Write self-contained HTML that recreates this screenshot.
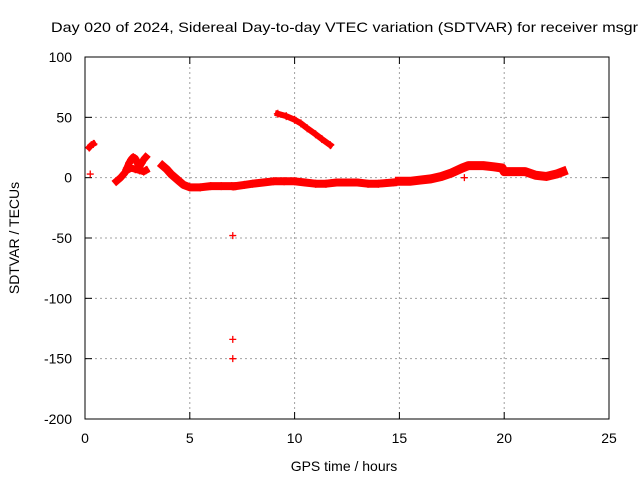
<!DOCTYPE html>
<html><head><meta charset="utf-8"><style>
body{margin:0;background:#fff}
svg text{font-family:"Liberation Sans",sans-serif;font-size:14px;fill:#000}
</style></head><body>
<svg id="chart" width="640" height="480" xmlns="http://www.w3.org/2000/svg">
<text x="51" y="32" textLength="587" lengthAdjust="spacingAndGlyphs">Day 020 of 2024, Sidereal Day-to-day VTEC variation (SDTVAR) for receiver msgr</text>
<g id="grid"></g>
<g id="axes"></g>
<g id="series"></g>
<rect x="85" y="57" width="524" height="362" fill="none" stroke="#000" stroke-width="1"/>
<text x="344" y="471" text-anchor="middle">GPS time / hours</text>
<text transform="translate(19,238) rotate(-90)" text-anchor="middle">SDTVAR / TECUs</text>
</svg>
<script>
const xTicks=[0,5,10,15,20,25];
const yTicks=[100,50,0,-50,-100,-150,-200];
const segA_t=[0.2,0.3,0.4];
const segA_v=[25,27,28];
const segB_t=[1.5,1.7,1.9,2.0,2.1,2.2,2.3,2.4,2.5,2.6,2.7,2.8,2.9];
const segB_v=[-3,0,4,8,12,15,17,16,12,9,12,15,17];
const segB2_t=[2.0,2.2,2.4,2.6,2.8,2.9];
const segB2_v=[6,8,7,6,5,6];
const segC_t=[3.7,3.9,4.1,4.3,4.5,4.7,5.0,5.5,6.0,6.5,7.0];
const segC_v=[10,7,3,0,-3,-6,-8,-8,-7,-7,-7];
const segD_t=[7.2,7.6,8.0,8.5,9.0,9.5,10.0,10.5,11.0,11.5,12.0,12.5,13.0,13.5,14.0,14.7];
const segD_v=[-7,-6,-5,-4,-3,-3,-3,-4,-5,-5,-4,-4,-4,-5,-5,-4];
const segE_t=[15.0,15.5,16.0,16.5,17.0,17.5,18.0,18.3,18.6,19.0,19.5,19.9,20.0,20.5,21.0,21.5,22.0,22.5,22.8];
const segE_v=[-3,-3,-2,-1,1,4,8,10,10,10,9,8,5,5,5,2,1,3,5];
const segF_t=[9.2,9.6,10.0,10.3,10.6,11.0,11.3,11.7];
const segF_v=[53,51,48,45,41,36,32,27];
const outT=[0.25,7.05,7.05,7.05,18.1];
const outV=[3,-48,-134,-150,0];

const NS='http://www.w3.org/2000/svg';
const X=t=>85+t*524/25;
const Y=v=>57+(100-v)*362/300;
const grid=document.getElementById('grid'),axes=document.getElementById('axes'),ser=document.getElementById('series');
function mk(tag,attrs,parent){const e=document.createElementNS(NS,tag);for(const k in attrs)e.setAttribute(k,attrs[k]);parent.appendChild(e);return e;}
xTicks.forEach(t=>{
  if(t>0&&t<25){const g=mk('line',{x1:X(t),x2:X(t),y1:57,y2:419,stroke:'#a0a0a0','stroke-dasharray':'2,3'},grid);
  
  }
  mk('line',{x1:X(t),x2:X(t),y1:419,y2:412,stroke:'#000'},axes);
  mk('line',{x1:X(t),x2:X(t),y1:57,y2:64,stroke:'#000'},axes);
  const l=mk('text',{x:X(t),y:443,'text-anchor':'middle'},axes);l.textContent=t;
  
  
});
yTicks.forEach(v=>{
  if(v<100&&v>-200){const g=mk('line',{x1:85,x2:609,y1:Y(v),y2:Y(v),stroke:'#a0a0a0','stroke-dasharray':'2,3'},grid);
  
  }
  mk('line',{x1:85,x2:92,y1:Y(v),y2:Y(v),stroke:'#000'},axes);
  mk('line',{x1:602,x2:609,y1:Y(v),y2:Y(v),stroke:'#000'},axes);
  const l=mk('text',{x:72,y:Y(v)+5,'text-anchor':'end'},axes);l.textContent=v;
  
  
});
function band(ts,vs,w){
  const p=mk('polyline',{points:ts.map((t,i)=>X(t)+','+Y(vs[i])).join(' '),fill:'none',stroke:'#f00','stroke-width':w,'stroke-linejoin':'round','stroke-linecap':'square'},ser);
  
  
  ts.forEach((t,i)=>plus(t,vs[i],4));
}
function plus(t,v,s){
  const x=X(t),y=Y(v);
  const p=mk('path',{d:`M${x-s},${y}H${x+s}M${x},${y-s}V${y+s}`,stroke:'#f00','stroke-width':1.3,fill:'none'},ser);
  
  
}
band(segA_t,segA_v,6);
band(segB_t,segB_v,7);
band(segB2_t,segB2_v,7);
band(segC_t,segC_v,8);
band(segD_t,segD_v,8);
band(segE_t,segE_v,9);
band(segF_t,segF_v,6);
outT.forEach((t,i)=>plus(t,outV[i],3.5));
</script>
</body></html>
